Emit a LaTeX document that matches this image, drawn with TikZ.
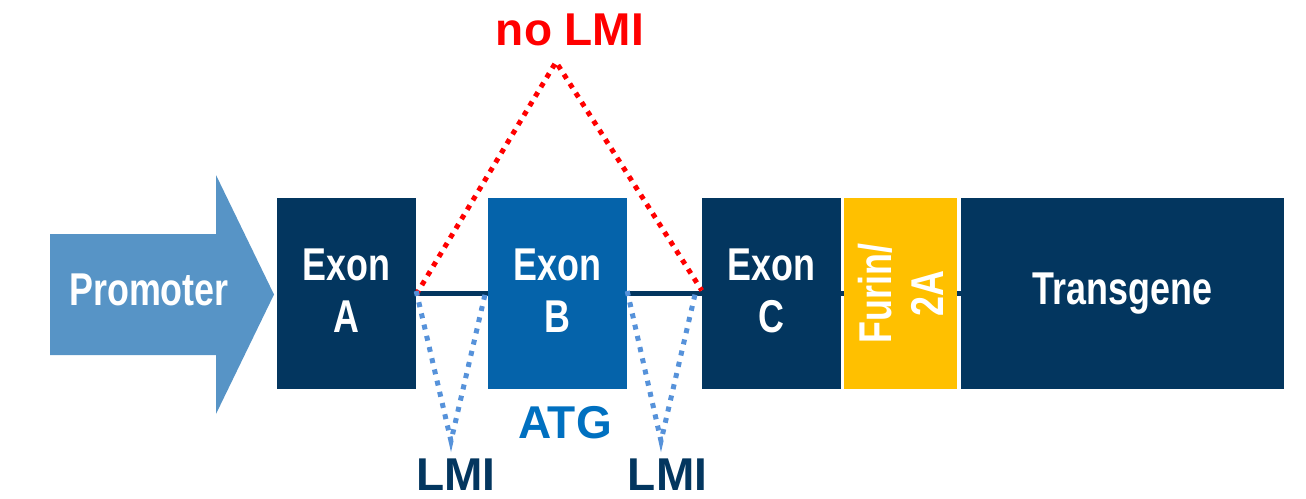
\documentclass[tikz,border=0pt]{standalone}
\usepackage{fontspec}
\setmainfont{Liberation Sans}
\newfontfamily\narrowfont{Liberation Sans}[FakeStretch=0.78]
\definecolor{navy}{RGB}{3,54,95}
\definecolor{exonb}{RGB}{5,99,170}
\definecolor{promo}{RGB}{87,148,198}
\definecolor{furin}{RGB}{255,192,0}
\definecolor{atgblue}{RGB}{0,112,192}
\definecolor{lmiblue}{RGB}{86,146,218}
\definecolor{nolmired}{RGB}{255,0,0}
\newcommand{\lowdepth}{\rule[-6pt]{0pt}{6pt}}
\tikzset{
  boxlbl/.style={font=\narrowfont\bfseries\fontsize{46}{52}\selectfont, text=white, align=center},
  exonbox/.style={boxlbl, fill=navy, inner sep=0pt, minimum width=139pt, minimum height=191pt},
  bigtext/.style={font=\bfseries\fontsize{46}{52}\selectfont, anchor=base},
  intron/.style={navy, line width=4.5pt},
  skipred/.style={nolmired, line width=5pt, dash pattern=on 5pt off 6pt},
  skipblue/.style={lmiblue, line width=5pt, dash pattern=on 5pt off 6.5pt},
}
\begin{document}
\begin{tikzpicture}[x=1pt,y=-1pt]
\useasboundingbox (0,0) rectangle (1306,498);
% promoter arrow
\fill[promo] (50,234) -- (216,234) -- (216,175) -- (274,294.5) -- (216,414) -- (216,355) -- (50,355) -- cycle;
\node[boxlbl, yshift=5pt] (promoter) at (149,294.5) {Promoter};
% boxes
\node[exonbox] (exonA) at (346.5,293.5) {Exon\\A\lowdepth};
\node[exonbox, fill=exonb] (exonB) at (557.5,293.5) {Exon\\B\lowdepth};
\node[exonbox] (exonC) at (771.5,293.5) {Exon\\C\lowdepth};
\node[exonbox, minimum width=323pt] (transgene) at (1122.5,293.5) {Transgene};
% intron lines
\draw[intron] (exonA.east) -- (exonB.west);
\draw[intron] (exonB.east) -- (exonC.west);
\draw[intron] (exonC.east) -- (transgene.west);
\node[boxlbl, fill=furin, inner sep=0pt, minimum width=191pt, minimum height=113pt, rotate=90] (furin) at (900.5,293.5) {Furin/\\2A};
% splicing paths
\coordinate (apex) at (556,62);
\coordinate (lmiL) at (451,441);
\coordinate (lmiR) at (661,441);
\draw[skipred] ([yshift=-1pt]exonA.east) -- (apex) -- ([yshift=3pt]exonC.west);
\draw[skipblue] ([yshift=2.5pt]exonA.east) -- (lmiL) -- ([yshift=2.5pt,xshift=-2pt]exonB.west);
\draw[skipblue] ([yshift=2.5pt]exonB.east) -- (lmiR) -- ([yshift=2.5pt,xshift=-6pt]exonC.west);
% labels
\node[bigtext, text=nolmired] (nolmi) at (570,45) {no LMI};
\node[bigtext, text=atgblue] (atg) at (565,438) {ATG};
\node[bigtext, text=navy] (lmi1) at (456,490) {LMI};
\node[bigtext, text=navy] (lmi2) at (667.5,490) {LMI};
\end{tikzpicture}
\end{document}
